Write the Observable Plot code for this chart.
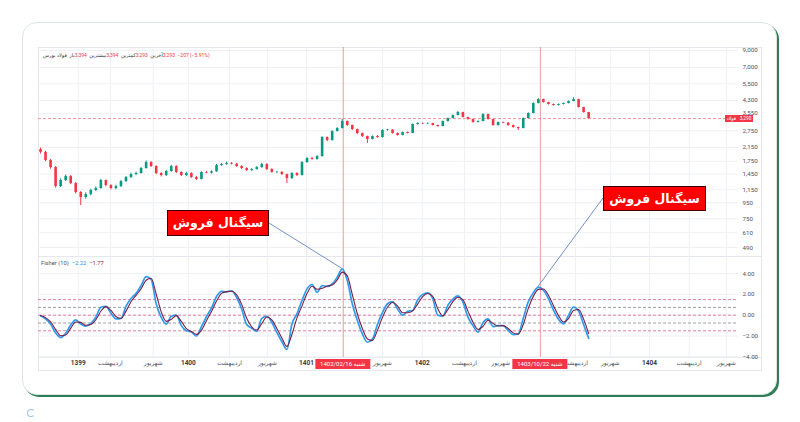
<!DOCTYPE html>
<html lang="fa"><head><meta charset="utf-8">
<script src="https://cdn.jsdelivr.net/npm/d3@7"></script>
<script src="https://cdn.jsdelivr.net/npm/@observablehq/plot@0.6"></script>
<style>
html,body{margin:0;padding:0;width:800px;height:422px;overflow:hidden;background:#ffffff;}
body{position:relative;font-family:Roboto,"DejaVu Sans",sans-serif;}
.abs{position:absolute;}
#card{left:22px;top:22px;width:753px;height:371px;border:1px solid #dbe6df;border-radius:15px;box-shadow:2px 2px 0 #2f7d56;background:#fff;}
#frame{left:38px;top:47px;width:724px;height:324px;border:1px solid #e4e7ed;box-sizing:border-box;}
.sep{background:#e4e7ed;height:1px;}
.chart svg{display:block}
#legend{left:43px;top:52px;font-size:5px;color:#333;white-space:nowrap;direction:ltr;}
#legend span{display:inline-block;}
#flegend{left:41px;top:260px;font-size:5.8px;color:#555;white-space:nowrap;}
.red{color:#f23645}
.sig{background:#ff0000;border:1px solid #3d0000;color:#fff;font:bold 12.5px "DejaVu Sans",sans-serif;text-align:center;box-sizing:border-box;direction:rtl;white-space:nowrap;overflow:hidden;}
.datelbl{background:#f23645;color:#fff;font-size:6px;height:10px;line-height:10px;padding:0 5px;transform:translateX(-50%);white-space:nowrap;direction:rtl;font-family:Roboto,"DejaVu Sans",sans-serif;}
#plabel{left:725px;height:7px;font-size:4.8px;line-height:7px;color:#fff;white-space:nowrap;display:flex;}
#plabel span{background:#f23645;padding:0 1.5px;}
#mark{left:27px;top:409px;width:6px;height:6px;border:1.5px solid #9cc3e6;border-radius:50%;border-right-color:transparent;}
</style></head><body>
<div id="card" class="abs"></div>
<div id="frame" class="abs"></div>
<div class="abs sep" style="left:38px;top:256px;width:724px"></div>
<div class="abs sep" style="left:38px;top:357px;width:724px"></div>
<div id="price" class="abs chart" style="left:0;top:47px"></div>
<div id="fisher" class="abs chart" style="left:0;top:257px"></div>
<div id="legend" class="abs"><span>فولاد بورس</span>&nbsp;&nbsp;<span>باز</span><span class="red">3,394</span>&nbsp;&nbsp;<span>بیشترین</span><span class="red">3,394</span>&nbsp;&nbsp;<span>کمترین</span><span class="red">3,293</span>&nbsp;&nbsp;<span>آخرین</span><span class="red">3,293</span>&nbsp;&nbsp;<span class="red">−207 (−5.91%)</span></div>
<div id="flegend" class="abs">Fisher (10)&nbsp; <span style="color:#2196f3">−2.22</span>&nbsp; <span style="color:#8b1a3a">−1.77</span></div>
<div id="mark" class="abs"></div>
<script>
// ---- data ----
const open  = [2080,2000,1771,1597,1206,1318,1398,1261,1104,1026,
  1072,1137,1171,1318,1224,1171,1206,1299,1378,1440,
  1462,1574,1720,1621,1462,1419,1506,1621,1484,1419,
  1462,1378,1338,1484,1470,1500,1645,1670,1695,1680,
  1621,1574,1528,1551,1597,1670,1551,1484,1490,1440,
  1358,1462,1419,1720,1825,1800,1879,2488,2380,2719,
  2842,3151,2970,2800,2640,2525,2416,2525,2488,2759,
  2780,2640,2563,2679,2640,3015,3060,3040,3060,2970,
  2927,3151,3294,3443,3599,3343,3246,3105,3151,3495,
  3246,2970,3105,3080,2970,2884,2842,3294,3547,4111,
  4361,4173,4051,3991,4051,4111,4235,4361,3875,3599];
const high  = [2130,2030,1800,1620,1350,1430,1420,1280,1120,1100,
  1160,1200,1340,1330,1240,1230,1320,1400,1470,1490,
  1600,1760,1740,1640,1480,1530,1650,1640,1500,1490,
  1480,1400,1500,1510,1520,1670,1700,1730,1720,1700,
  1640,1590,1570,1620,1700,1690,1570,1510,1500,1450,
  1480,1480,1740,1850,1860,1900,2520,2510,2750,2880,
  3250,3180,2990,2820,2660,2540,2550,2560,2790,2810,
  2790,2660,2700,2700,3040,3090,3080,3090,3070,2990,
  3180,3320,3470,3650,3620,3360,3260,3180,3540,3510,
  3260,3130,3130,3100,2990,2900,3320,3580,4150,4420,
  4380,4190,4080,4090,4140,4270,4480,4380,3890,3610];
const low   = [1950,1740,1560,1180,1190,1300,1240,1080,911,1000,
  1050,1120,1160,1200,1150,1150,1190,1280,1360,1420,
  1450,1560,1600,1440,1390,1400,1490,1460,1400,1400,
  1360,1320,1330,1460,1450,1490,1630,1650,1660,1600,
  1550,1510,1510,1540,1580,1530,1470,1460,1420,1261,
  1340,1400,1410,1700,1780,1780,1860,2340,2360,2700,
  2820,2930,2760,2600,2490,2277,2400,2460,2470,2730,
  2620,2540,2550,2620,2630,2990,3010,3020,2950,2900,
  2910,3130,3280,3420,3320,3220,3080,3090,3140,3220,
  2940,2950,3050,2940,2860,2760,2830,3280,3530,4090,
  4140,4020,3960,3970,4030,4090,4220,3850,3570,3270];
const close = [2000,1771,1597,1206,1318,1398,1261,1104,1026,1072,
  1137,1171,1318,1224,1171,1206,1299,1378,1440,1462,
  1574,1720,1621,1462,1419,1506,1621,1484,1419,1462,
  1378,1338,1484,1470,1500,1645,1670,1695,1680,1621,
  1574,1528,1551,1597,1670,1551,1484,1490,1440,1358,
  1462,1419,1720,1825,1800,1879,2488,2380,2719,2842,
  3151,2970,2800,2640,2525,2416,2525,2488,2759,2780,
  2640,2563,2679,2640,3015,3060,3040,3060,2970,2927,
  3151,3294,3443,3599,3343,3246,3105,3151,3495,3246,
  2970,3105,3080,2970,2884,2842,3294,3547,4111,4361,
  4173,4051,3991,4051,4111,4235,4361,3875,3599,3290];
const fisher = [-0.05,-0.35,-0.85,-1.7,-2.15,-1.75,-0.95,-0.45,-0.85,-1.05,
  -0.8,-0.2,0.77,0.85,0.2,-0.35,-0.3,0.85,1.6,2.1,
  2.85,3.7,3.45,1.1,-0.2,-0.85,-0.1,0.0,-1.0,-1.5,
  -1.6,-2.0,-1.1,-0.15,0.7,1.8,2.3,2.25,2.35,1.7,
  0.6,-0.9,-1.25,-1.55,-0.3,-0.1,-0.7,-1.65,-2.55,-3.3,
  -0.85,0.13,1.41,2.53,2.95,2.2,2.85,2.76,3.0,3.65,
  4.46,3.33,1.1,-0.5,-1.8,-2.6,-2.3,-0.9,0.25,1.1,
  1.3,0.6,0.0,0.38,0.45,1.48,2.0,2.15,1.58,0.0,
  -0.1,0.95,1.55,1.85,1.25,-0.19,-0.99,-1.63,-0.7,-0.35,
  -1.09,-1.0,-1.0,-1.47,-1.86,-1.8,-0.3,1.3,2.15,2.7,
  2.4,1.6,0.5,-0.4,-0.83,0.0,0.77,0.4,-0.9,-2.22];
const trigger = [-0.03,-0.23,-0.65,-1.36,-1.97,-1.91,-1.27,-0.65,-0.69,-0.97,
  -0.9,-0.44,0.38,0.82,0.46,-0.13,-0.32,0.39,1.3,1.9,
  2.55,3.36,3.55,2.04,0.32,-0.59,-0.4,-0.04,-0.6,-1.3,
  -1.56,-1.84,-1.46,-0.53,0.36,1.36,2.1,2.27,2.31,1.96,
  1.04,-0.3,-1.11,-1.43,-0.8,-0.18,-0.46,-1.27,-2.19,-3.0,
  -1.83,-0.26,0.9,2.08,2.78,2.5,2.59,2.8,2.9,3.39,
  4.14,3.78,1.99,0.14,-1.28,-2.28,-2.42,-1.46,-0.21,0.76,
  1.22,0.88,0.24,0.23,0.42,1.07,1.79,2.09,1.81,0.63,
  -0.06,0.53,1.31,1.73,1.49,0.39,-0.67,-1.37,-1.07,-0.49,
  -0.79,-1.04,-1.0,-1.28,-1.7,-1.82,-0.9,0.66,1.81,2.48,
  2.52,1.92,0.94,-0.04,-0.66,-0.33,0.46,0.55,-0.38,-1.77];
const lastPrice = 3290;
const priceTicks = [490,610,750,950,1150,1450,1750,2150,2750,3550,4300,5500,7000,9000];
const fisherTicks = [-4,-2,0,2,4];
const levelsPink = [1.5,0,-1.5];
const levelsGray = [0.75,-0.75];
const timeTickIdx = [7.5,13.9,22.4,29.4,37.6,45.1,52.9,68.0,75.9,84.3,91.5,106.4,113.3,121.1,129.0,136.4];
const timeTickLabels = ["1399","اردیبهشت","شهریور","1400","اردیبهشت","شهریور","1401","شهریور","1402","اردیبهشت","شهریور","اردیبهشت","شهریور","1404","اردیبهشت","شهریور"];
const signalIdx = [60.2, 99.4];
const signalDates = ["شنبه 1402/02/16", "شنبه 1403/10/22"];
const signalText = "سیگنال فروش";
const annotBars = [60, 99];

// ---- layout ----
const xDomain = [-0.4, 138.8];
const priceDomain = [423, 9406];
const fisherDomain = [-4.067, 5.548];
const up = "#089981", down = "#f23645";

const bars = close.map((c, i) => ({i, open: open[i], high: high[i], low: low[i], close: c}));
const barIndex = close.map((_, i) => i);
const ticks = timeTickIdx.map((x, k) => ({x, label: timeTickLabels[k]}));
const isYear = d => /^\d+$/.test(d.label);
const fmtF = d => (d < 0 ? "−" : "") + Math.abs(d).toFixed(2);
const baseStyle = {background: "transparent", fontFamily: "Roboto, 'DejaVu Sans', sans-serif", fontSize: "6.5px", color: "#50535e"};
const gridColor = "#eef0f4";

const priceChart = Plot.plot({
  width: 800, height: 210, marginLeft: 38, marginRight: 62, marginTop: 0, marginBottom: 0,
  style: baseStyle,
  x: {domain: xDomain, axis: null},
  y: {type: "log", domain: priceDomain, axis: null},
  marks: [
    Plot.ruleX(timeTickIdx, {stroke: gridColor}),
    Plot.ruleY(priceTicks, {stroke: gridColor}),
    Plot.text(priceTicks, {y: d => d, text: d => d3.format(",")(d), frameAnchor: "right", textAnchor: "start", dx: 4, fill: "#50535e", fontSize: 6.2}),
    Plot.ruleX(signalIdx, {stroke: "#f29a9a", strokeWidth: 1}),
    Plot.ruleY([lastPrice], {stroke: "#f23645", strokeOpacity: 0.55, strokeDasharray: "3,2"}),
    Plot.ruleX(bars, {filter: d => d.close >= d.open, x: "i", y1: "low", y2: "high", stroke: up}),
    Plot.ruleX(bars, {filter: d => d.close < d.open, x: "i", y1: "low", y2: "high", stroke: down}),
    Plot.ruleX(bars, {filter: d => d.close >= d.open, x: "i", y1: "open", y2: "close", stroke: up, strokeWidth: 2.6}),
    Plot.ruleX(bars, {filter: d => d.close < d.open, x: "i", y1: "open", y2: "close", stroke: down, strokeWidth: 2.6})
  ]
});
document.getElementById("price").append(priceChart);

const fisherChart = Plot.plot({
  width: 800, height: 114, marginLeft: 38, marginRight: 62, marginTop: 0, marginBottom: 14,
  style: baseStyle,
  x: {domain: xDomain, axis: null},
  y: {domain: fisherDomain, axis: null},
  marks: [
    Plot.ruleX(timeTickIdx, {stroke: gridColor}),
    Plot.ruleY(fisherTicks, {stroke: gridColor}),
    Plot.text(fisherTicks, {y: d => d, text: fmtF, frameAnchor: "right", textAnchor: "start", dx: 4, fill: "#50535e", fontSize: 6.2}),
    Plot.ruleY(levelsPink, {stroke: "#e0709a", strokeDasharray: "3,2", strokeWidth: 0.9}),
    Plot.ruleY(levelsGray, {stroke: "#8f939d", strokeDasharray: "3,2", strokeWidth: 0.9}),
    Plot.ruleX(signalIdx, {stroke: "#f29a9a", strokeWidth: 1}),
    Plot.lineY(fisher, {x: barIndex, stroke: "#2f9bef", strokeWidth: 1.7, curve: "monotone-x"}),
    Plot.lineY(trigger, {x: barIndex, stroke: "#7a1f45", strokeWidth: 1.1, curve: "monotone-x"}),
    Plot.text(ticks.filter(isYear), {x: "x", text: "label", frameAnchor: "bottom", dy: 7, fontWeight: "bold", fill: "#3a3d46", fontSize: 6.5}),
    Plot.text(ticks.filter(d => !isYear(d)), {x: "x", text: "label", frameAnchor: "bottom", dy: 7, fill: "#50535e", fontSize: 6})
  ]
});
document.getElementById("fisher").append(fisherChart);

// price label on the axis
const py = priceChart.scale("y");
const pl = document.createElement("div");
pl.id = "plabel"; pl.className = "abs";
pl.style.top = (47 + py.apply(lastPrice) - 3) + "px";
pl.innerHTML = `<span>فولاد</span><span style="margin-left:0.5px">${d3.format(",")(lastPrice)}</span>`;
document.body.append(pl);

// date labels on time axis
const fx = fisherChart.scale("x"), fy = fisherChart.scale("y");
signalIdx.forEach((s, k) => {
  const d = document.createElement("div");
  d.className = "abs datelbl";
  d.style.left = fx.apply(s) + "px";
  d.style.top = "359px";
  d.textContent = signalDates[k];
  document.body.append(d);
});

// annotations
const boxes = [
  {left: 167, top: 210, w: 102, h: 26, ax: 269, ay: 223},
  {left: 603, top: 186, w: 103, h: 25, ax: 603, ay: 198}
];
const ov = d3.select("body").append("svg").attr("class", "abs")
  .style("left", "0px").style("top", "0px").attr("width", 800).attr("height", 422);
boxes.forEach((b, k) => {
  const bar = annotBars[k];
  ov.append("line").attr("x1", b.ax).attr("y1", b.ay)
    .attr("x2", fx.apply(bar)).attr("y2", 257 + fy.apply(fisher[bar]))
    .attr("stroke", "#7291c6").attr("stroke-width", 1);
  const d = document.createElement("div");
  d.className = "abs sig";
  Object.assign(d.style, {left: b.left + "px", top: b.top + "px", width: b.w + "px", height: b.h + "px", lineHeight: (b.h - 2) + "px"});
  d.textContent = signalText;
  document.body.append(d);
});
</script>
</body></html>
